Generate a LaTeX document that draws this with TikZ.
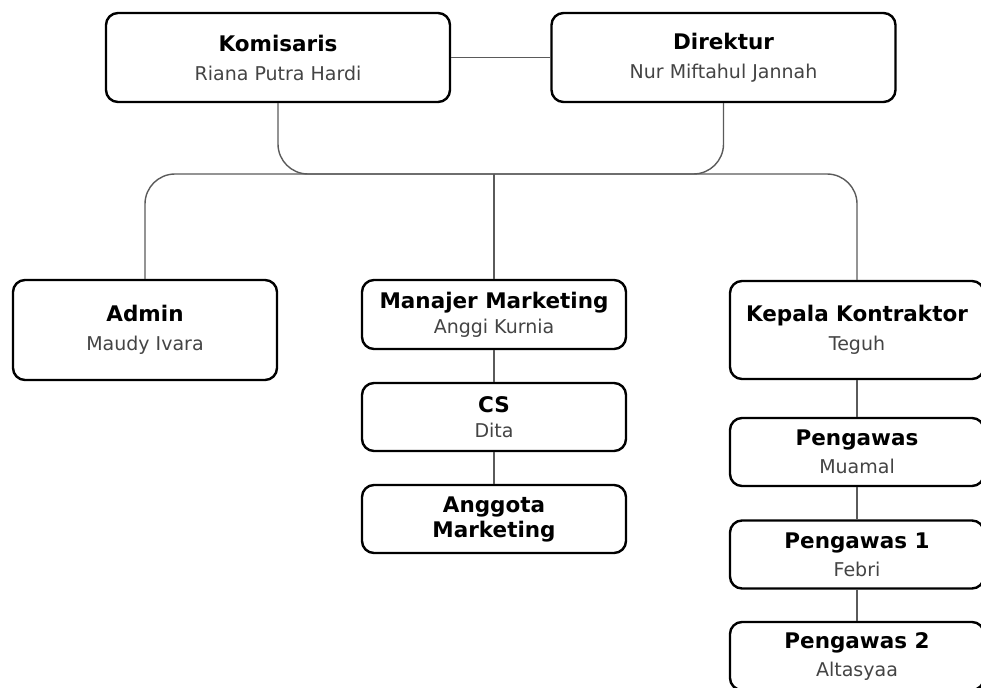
\documentclass[tikz,border=0pt]{standalone}
\usepackage{fontspec}
\setmainfont{DejaVu Sans}
\usepackage{tikz}
\usetikzlibrary{positioning,calc}
\definecolor{namegray}{HTML}{444444}
\definecolor{linegray}{HTML}{5A5A5A}
\tikzset{
  unit/.style={draw=black, line width=2.4pt, rounded corners=12pt, fill=white,
    align=center, inner sep=0pt, font=\fontsize{21.5}{29}\selectfont},
  wide/.style={unit, minimum width=344pt, minimum height=89pt},
  mid/.style={unit, minimum width=264pt, minimum height=100pt},
  slim/.style={unit, minimum width=264pt, minimum height=68pt, font=\fontsize{21.5}{25}\selectfont},
  slimr/.style={unit, minimum width=254pt, minimum height=68pt, font=\fontsize{21.5}{28}\selectfont},
  link/.style={draw=linegray, line width=1.4pt},
  elbow/.style={link, rounded corners=30pt}
}
\newcommand{\who}[2]{\textbf{#1}\\{\fontsize{19}{20}\selectfont\color{namegray}#2}}

\begin{document}
\begin{tikzpicture}[x=1pt,y=-1pt]
      \useasboundingbox (0,0) rectangle (981,687);
      % top
      \node[wide] (kom) at (278,57.5)  {\who{Komisaris}{Riana Putra Hardi}};
      \node[wide] (dir) at (723.5,57.5) {\who{Direktur}{Nur Miftahul Jannah}};
      \draw[link] (kom) -- (dir);
      \coordinate (bus) at (494,174);
      % second row
      \node[mid] (adm) at (145,330)  {\who{Admin}{Maudy Ivara}};
      \node[slim, minimum height=69pt] (mm) at (494,314.5) {\who{Manajer Marketing}{Anggi Kurnia}};
      \node[mid, minimum width=254pt, minimum height=98pt] (kep) at (857,330) {\who{Kepala Kontraktor}{Teguh}};
      \draw[elbow] (kom.south) |- (bus);
      \draw[elbow] (dir.south) |- (bus);
      \draw[elbow] (bus) -| (adm.north);
      \draw[elbow] (bus) -| (kep.north);
      \draw[link] (bus) -- (mm.north);
      % marketing
      \node[slim] (cs)  at (494,417) {\who{CS}{Dita}};
      \node[slim] (ang) at (494,519) {\textbf{Anggota}\\\textbf{Marketing}};
      \draw[link] (mm) -- (cs);
      \draw[link] (cs) -- (ang);
      % kontraktor
      \node[slimr] (pgw)  at (857,452)   {\who{Pengawas}{Muamal}};
      \node[slimr] (pgw1) at (857,554.5) {\who{Pengawas 1}{Febri}};
      \node[slimr] (pgw2) at (857,656)   {\who{Pengawas 2}{Altasyaa}};
      \draw[link] (kep) -- (pgw);
      \draw[link] (pgw) -- (pgw1);
      \draw[link] (pgw1) -- (pgw2);
\end{tikzpicture}
\end{document}
